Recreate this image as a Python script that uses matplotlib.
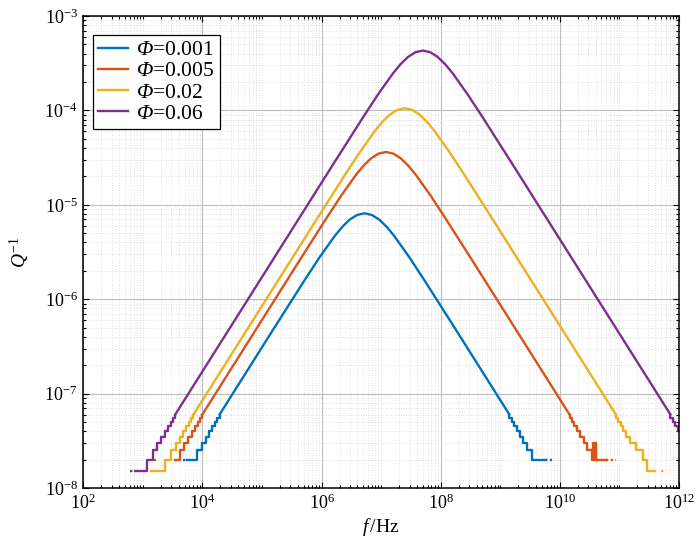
import numpy as np
import matplotlib
matplotlib.use("Agg")
import matplotlib.pyplot as plt
from matplotlib.ticker import LogLocator, NullFormatter

plt.rcParams['font.family'] = ['Liberation Serif', 'DejaVu Serif']
plt.rcParams['mathtext.fontset'] = 'custom'
plt.rcParams['mathtext.rm'] = 'Liberation Serif'
plt.rcParams['mathtext.it'] = 'Liberation Serif:italic'
plt.rcParams['mathtext.bf'] = 'Liberation Serif:bold'
# italic Greek capital: mathtext forces \mathit Greek capitals upright, so go via sf
plt.rcParams['mathtext.sf'] = 'Liberation Serif:italic'

labels = ['0.001', '0.005', '0.02', '0.06']
colors = ['#0072BD', '#D95319', '#EDB120', '#7E2F8E']

# main part of each curve (f in Hz, Q^-1)
blue_f = [19370, 1.660e5, 5.248e5, 9.333e5, 1.660e6, 2.213e6, 2.951e6, 3.936e6, 5.248e6,
          6.998e6, 9.333e6, 1.245e7, 1.660e7, 2.951e7, 5.248e7, 1.660e8, 1.422e9]
blue_q = [6e-8, 5.14e-7, 1.61e-6, 2.80e-6, 4.67e-6, 5.82e-6, 6.95e-6, 7.80e-6, 8.13e-6,
          7.80e-6, 6.95e-6, 5.82e-6, 4.67e-6, 2.80e-6, 1.61e-6, 5.14e-7, 6e-8]

red_f = [9940, 3.802e5, 1.202e6, 2.138e6, 3.802e6, 5.070e6, 6.761e6, 9.016e6, 1.202e7,
         1.603e7, 2.138e7, 2.851e7, 3.802e7, 6.761e7, 1.202e8, 3.802e8, 1.455e10]
red_q = [6e-8, 2.294e-6, 7.19e-6, 1.252e-5, 2.087e-5, 2.600e-5, 3.102e-5, 3.486e-5, 3.631e-5,
         3.486e-5, 3.102e-5, 2.600e-5, 2.087e-5, 1.252e-5, 7.19e-6, 2.294e-6, 6e-8]

yellow_f = [7068, 7.852e5, 2.483e6, 4.416e6, 7.852e6, 1.047e7, 1.396e7, 1.862e7, 2.483e7,
            3.311e7, 4.416e7, 5.888e7, 7.852e7, 1.396e8, 2.483e8, 7.852e8, 8.725e10]
yellow_q = [6e-8, 6.663e-6, 2.088e-5, 3.634e-5, 6.061e-5, 7.551e-5, 9.011e-5, 1.012e-4, 1.054e-4,
            1.012e-4, 9.011e-5, 7.551e-5, 6.061e-5, 3.634e-5, 2.088e-5, 6.663e-6, 6e-8]

purple_f = [3492, 1.585e6, 5.012e6, 8.913e6, 1.585e7, 2.113e7, 2.818e7, 3.758e7, 5.012e7,
            6.683e7, 8.913e7, 1.189e8, 1.585e8, 2.818e8, 5.012e8, 1.585e9, 7.19e11]
purple_q = [6e-8, 2.720e-5, 8.525e-5, 1.484e-4, 2.475e-4, 3.083e-4, 3.679e-4, 4.132e-4, 4.305e-4,
            4.132e-4, 3.679e-4, 3.083e-4, 2.475e-4, 1.484e-4, 8.525e-5, 2.720e-5, 6e-8]

# staircase tails at low values (step edges, levels)
blue_lf = [5430, 8070, 9680, 11300, 12910, 14530, 16140, 17750, 19370]
blue_lq = [2e-8, 2.5e-8, 3e-8, 3.5e-8, 4e-8, 4.5e-8, 5e-8, 5.5e-8, 6e-8]
blue_rf = [1.422e9, 1.422e9, 1.551e9, 1.706e9, 1.896e9, 2.133e9, 2.437e9, 2.843e9, 3.412e9, 5.57e9]
blue_rq = [6e-8, 5.5e-8, 5e-8, 4.5e-8, 4e-8, 3.5e-8, 3e-8, 2.5e-8, 2e-8, 2e-8]

red_lf = [3460, 4140, 4970, 5800, 6620, 7450, 8280, 9110, 9940]
red_lq = [2e-8, 2.5e-8, 3e-8, 3.5e-8, 4e-8, 4.5e-8, 5e-8, 5.5e-8, 6e-8]
red_rf = [1.455e10, 1.455e10, 1.587e10, 1.746e10, 1.940e10, 2.183e10, 2.494e10, 2.910e10,
          3.492e10, 3.60e10, 3.70e10, 3.80e10, 3.90e10, 4.00e10, 4.10e10, 6.05e10]
red_rq = [6e-8, 5.5e-8, 5e-8, 4.5e-8, 4e-8, 3.5e-8, 3e-8, 2.5e-8,
          2e-8, 3e-8, 2e-8, 3e-8, 2e-8, 3e-8, 2e-8, 2e-8]

yellow_lf = [1370, 2356, 2945, 3534, 4123, 4712, 5301, 5890, 6479, 7068]
yellow_lq = [1.5e-8, 2e-8, 2.5e-8, 3e-8, 3.5e-8, 4e-8, 4.5e-8, 5e-8, 5.5e-8, 6e-8]
yellow_rf = [8.725e10, 8.725e10, 9.518e10, 1.047e11, 1.163e11, 1.309e11, 1.496e11, 1.9e11,
             2.45e11, 2.9e11, 3.9e11]
yellow_rq = [6e-8, 5.5e-8, 5e-8, 4.5e-8, 4e-8, 3.5e-8, 3e-8, 2.5e-8, 2e-8, 1.5e-8, 1.5e-8]

purple_lf = [738, 1164, 1455, 1746, 2037, 2328, 2619, 2910, 3201, 3492]
purple_lq = [1.5e-8, 2e-8, 2.5e-8, 3e-8, 3.5e-8, 4e-8, 4.5e-8, 5e-8, 5.5e-8, 6e-8]
purple_rf = [7.19e11, 7.19e11, 7.845e11, 8.63e11, 9.589e11, 1.05e12]
purple_rq = [6e-8, 5.5e-8, 5e-8, 4.5e-8, 4e-8, 4e-8]

# broken bits at the floor (f start, f end, level)
blue_dots = [(4770, 5430, 2e-8), (5.57e9, 7.9e9, 2e-8)]
red_dots = [(1560, 1660, 2e-8), (6.05e10, 8.9e10, 2e-8)]
yellow_dots = [(5.07e11, 5.98e11, 1.5e-8)]
purple_dots = [(610, 738, 1.5e-8)]

curves = [
    (blue_f, blue_q, blue_lf, blue_lq, blue_rf, blue_rq, blue_dots),
    (red_f, red_q, red_lf, red_lq, red_rf, red_rq, red_dots),
    (yellow_f, yellow_q, yellow_lf, yellow_lq, yellow_rf, yellow_rq, yellow_dots),
    (purple_f, purple_q, purple_lf, purple_lq, purple_rf, purple_rq, purple_dots),
]

fig = plt.figure(figsize=(7, 5.46), dpi=100)
ax = fig.add_axes([0.119, 0.1062, 0.851, 0.8645])

lw = 1.7
for (f, q, lf, lq, rf, rq, dots), c, lab in zip(curves, colors, labels):
    ax.plot(f, q, color=c, lw=lw, label=r'$\mathsf{Φ}$=' + lab)
    ax.step(lf, lq, where='post', color=c, lw=lw)
    ax.step(rf, rq, where='post', color=c, lw=lw)
    for f0, f1, lev in dots:
        ax.plot([f0, f1], [lev, lev], color=c, lw=lw, linestyle=(0, (1, 1)))

ax.set_xscale('log')
ax.set_yscale('log')
ax.set_xlim(1e2, 1e12)
ax.set_ylim(1e-8, 1e-3)
ax.set_xticks([1e2, 1e4, 1e6, 1e8, 1e10, 1e12])
ax.xaxis.set_minor_locator(LogLocator(base=10, subs=np.arange(1, 10) * 1.0, numticks=100))
ax.yaxis.set_minor_locator(LogLocator(base=10, subs=np.arange(2, 10) * 1.0, numticks=100))
ax.xaxis.set_minor_formatter(NullFormatter())
ax.yaxis.set_minor_formatter(NullFormatter())

ax.grid(True, which='major', color='#bdbdbd', lw=0.8)
ax.grid(True, which='minor', color='#d6d6d6', lw=0.6, linestyle=(0, (1, 2)))
ax.set_axisbelow(True)

ax.tick_params(which='both', direction='in', top=True, right=True, labelsize=13, width=0.8)
ax.tick_params(which='major', length=4.5, pad=4)
ax.tick_params(which='minor', length=2.5)
for s in ax.spines.values():
    s.set_linewidth(1.1)

ax.set_xlabel(r'$f\,$/Hz', fontsize=14, labelpad=2)
ax.set_ylabel(r'$Q^{\mathrm{-1}}$', fontsize=14, labelpad=9)

leg = ax.legend(loc='upper left', bbox_to_anchor=(0.0158, 0.96), borderaxespad=0,
                fontsize=15.5, fancybox=False, edgecolor='black', framealpha=1,
                handlelength=1.4, handletextpad=0.37, labelspacing=0.05, borderpad=0.25)
leg.get_frame().set_linewidth(0.9)

fig.savefig('out.png', dpi=100)
